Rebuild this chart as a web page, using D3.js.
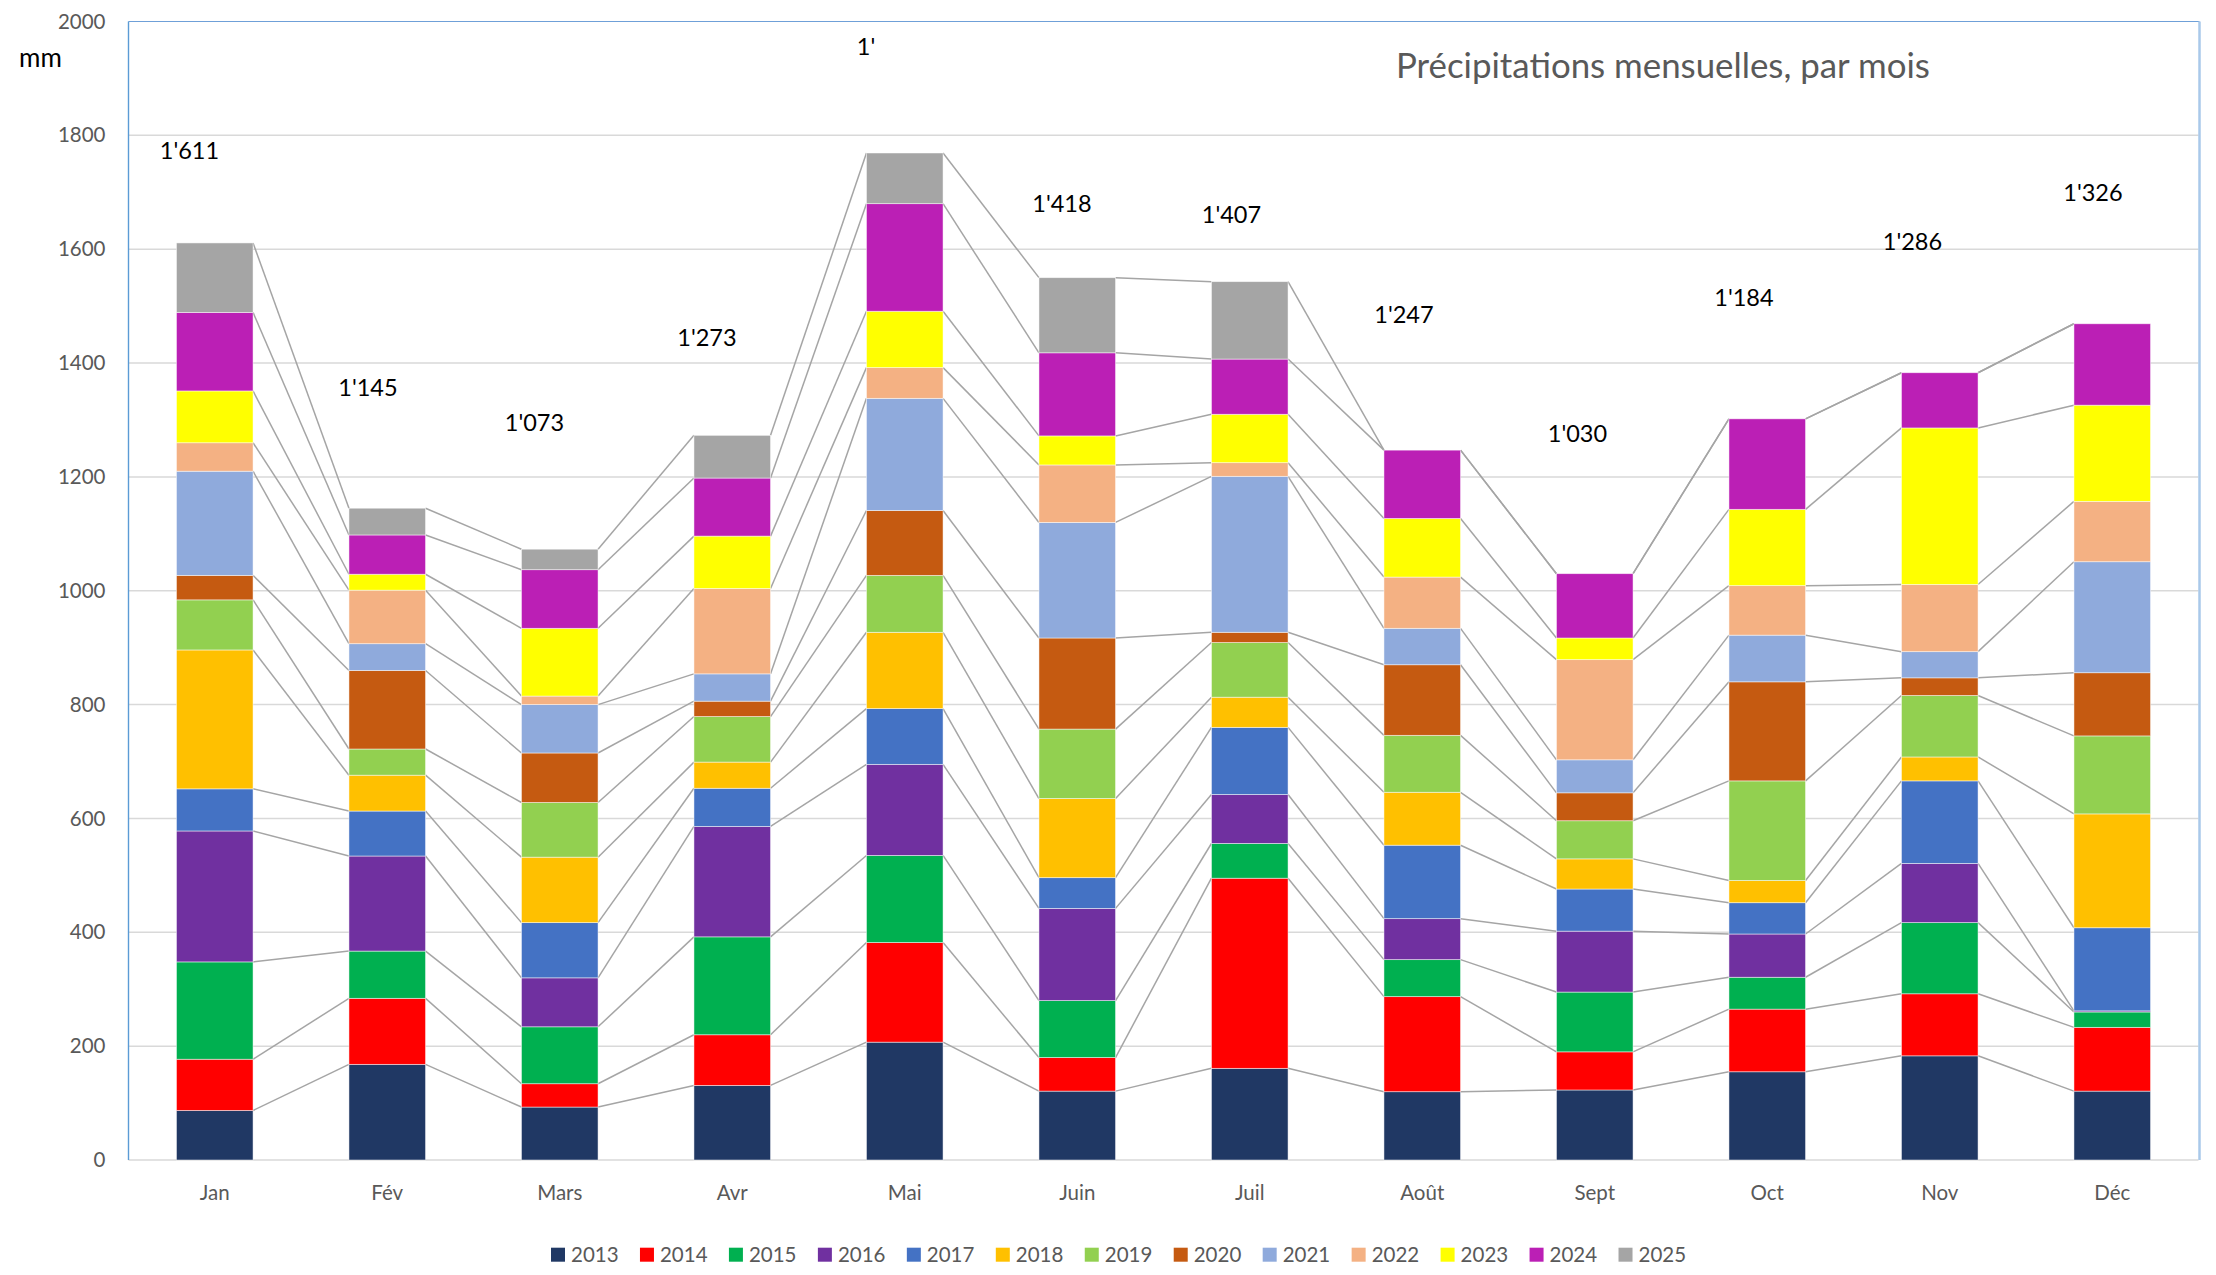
<!DOCTYPE html>
<html>
<head>
<meta charset="utf-8">
<script src="https://cdn.jsdelivr.net/npm/d3@7"></script>
<style>
  html, body { margin: 0; padding: 0; background: #fff; }
  svg { display: block; font-family: Lato, "Open Sans", sans-serif; }
</style>
</head>
<body>
<svg id="chart" width="2216" height="1275"></svg>
<script>
// ---- Data: monthly precipitation (mm), Jan..Déc, one array per year ----
const months = ["Jan", "Fév", "Mars", "Avr", "Mai", "Juin", "Juil", "Août", "Sept", "Oct", "Nov", "Déc"];
const years = ["2013", "2014", "2015", "2016", "2017", "2018", "2019", "2020", "2021", "2022", "2023", "2024", "2025"];

const p2013 = [87, 168, 93, 131, 207, 121, 161, 120, 123, 155, 183, 121];
const p2014 = [90, 116, 41, 89, 175, 59, 334, 167, 67, 110, 109, 112];
const p2015 = [171, 83, 100, 172, 153, 100, 61, 65, 105, 56, 125, 27];
const p2016 = [230, 167, 86, 194, 160, 162, 86, 72, 107, 76, 104, 2];
const p2017 = [74, 79, 97, 67, 98, 54, 118, 129, 74, 55, 145, 146];
const p2018 = [244, 63, 115, 46, 134, 139, 53, 93, 53, 39, 42, 200];
const p2019 = [88, 46, 96, 80, 100, 122, 96, 100, 67, 175, 108, 137];
const p2020 = [43, 138, 87, 27, 114, 160, 18, 124, 49, 174, 31, 111];
const p2021 = [183, 47, 85, 48, 197, 203, 274, 64, 58, 82, 46, 195];
const p2022 = [50, 94, 15, 150, 54, 101, 24, 90, 176, 87, 118, 106];
const p2023 = [91, 28, 119, 92, 99, 51, 85, 103, 38, 134, 275, 169];
const p2024 = [138, 69, 103, 102, 189, 146, 97, 120, 113, 159, 97, 143];
const p2025 = [122, 47, 36, 75, 89, 132, 136, null, null, null, null, null];

const yearSeries = [p2013, p2014, p2015, p2016, p2017, p2018, p2019, p2020, p2021, p2022, p2023, p2024, p2025];

// Cumulative totals written above each month
const totalLabels = ["1'611", "1'145", "1'073", "1'273", "1'", "1'418", "1'407", "1'247", "1'030", "1'184", "1'286", "1'326"];

const yTicks = [0, 200, 400, 600, 800, 1000, 1200, 1400, 1600, 1800, 2000];

const yearColors = ["#203864", "#FF0000", "#00B050", "#7030A0", "#4472C4", "#FFC000", "#92D050",
                    "#C55A11", "#8FAADC", "#F4B183", "#FFFF00", "#BB1FB5", "#A5A5A5"];

// ---- Layout ----
const W = 2216, H = 1275;
const plot = { left: 128.5, right: 2198.5, top: 21.5, bottom: 1160 };
// label placement relative to the bar centre (x) and the bar top (y), in px
const labelDx = [-55, -49, -55, -55, -48, -45, -48, -48, -47, -53, -57, -49];
const labelDy = [-92, -121, -127, -98, -106, -74, -67, -136, -140, -121, -131, -131];

const svg = d3.select("#chart");
svg.append("rect").attr("width", W).attr("height", H).attr("fill", "#fff");

const x = d3.scaleBand()
  .domain(months)
  .range([plot.left, plot.right])
  .paddingInner(0.556)
  .paddingOuter(0.278);

const y = d3.scaleLinear().domain([0, 2000]).range([plot.bottom, plot.top]);

// stack table
const table = months.map((m, i) => {
  const row = { month: m };
  years.forEach((yr, j) => { row[yr] = yearSeries[j][i] ?? 0; });
  return row;
});
const stacked = d3.stack().keys(years)(table);

// gridlines
svg.append("g")
  .selectAll("line")
  .data(yTicks.filter(v => v < 2000))
  .join("line")
  .attr("x1", plot.left).attr("x2", plot.right)
  .attr("y1", d => y(d)).attr("y2", d => y(d))
  .attr("stroke", "#D9D9D9")
  .attr("stroke-width", 1.5);

// plot frame
svg.append("line")
  .attr("x1", plot.left).attr("x2", plot.right + 1)
  .attr("y1", y(2000)).attr("y2", y(2000))
  .attr("stroke", "#6FA0D8").attr("stroke-width", 1.2);
svg.append("line")
  .attr("x1", plot.left).attr("x2", plot.left)
  .attr("y1", y(2000)).attr("y2", y(0))
  .attr("stroke", "#5B9BD5").attr("stroke-width", 1.4);
svg.append("line")
  .attr("x1", plot.right + 1).attr("x2", plot.right + 1)
  .attr("y1", y(2000)).attr("y2", y(0))
  .attr("stroke", "#A9C9EA").attr("stroke-width", 2.5);

// y axis
const yAxis = svg.append("g")
  .attr("transform", `translate(${plot.left},0)`)
  .call(d3.axisLeft(y).tickValues(yTicks).tickSize(0).tickPadding(23).tickFormat(d3.format("d")));
yAxis.select(".domain").remove();
yAxis.selectAll("text")
  .attr("fill", "#595959")
  .style("font-size", "20.5px")
  .style("font-family", "Lato, 'Open Sans', sans-serif");

// x axis
const xAxis = svg.append("g")
  .attr("transform", `translate(0,${plot.bottom})`)
  .call(d3.axisBottom(x).tickSize(0).tickPadding(25));
xAxis.select(".domain").remove();
xAxis.selectAll("text")
  .attr("fill", "#595959")
  .style("font-size", "20.5px")
  .style("font-family", "Lato, 'Open Sans', sans-serif");

// series lines joining the top of each year's segment between neighbouring months
const bw = x.bandwidth();
const seriesLines = [];
stacked.forEach(layer => {
  for (let i = 0; i < months.length - 1; i++) {
    seriesLines.push({
      x1: x(months[i]) + bw, y1: y(layer[i][1]),
      x2: x(months[i + 1]), y2: y(layer[i + 1][1])
    });
  }
});
svg.append("g")
  .selectAll("line")
  .data(seriesLines)
  .join("line")
  .attr("x1", d => d.x1).attr("y1", d => d.y1)
  .attr("x2", d => d.x2).attr("y2", d => d.y2)
  .attr("stroke", "#A5A5A5")
  .attr("stroke-width", 1.5);

// stacked bars
svg.append("g")
  .selectAll("g")
  .data(stacked)
  .join("g")
  .attr("fill", (d, i) => yearColors[i])
  .selectAll("rect")
  .data(d => d.filter(s => s[1] - s[0] > 0))
  .join("rect")
  .attr("x", d => x(d.data.month))
  .attr("y", d => y(d[1]))
  .attr("width", bw)
  .attr("height", d => y(d[0]) - y(d[1]))
  .attr("stroke", "#fff")
  .attr("stroke-opacity", 0.6)
  .attr("stroke-width", 0.8);

// cumulative labels above the bars
const stackTop = months.map((m, i) => stacked[stacked.length - 1][i][1]);
svg.append("g")
  .selectAll("text")
  .data(totalLabels)
  .join("text")
  .attr("x", (d, i) => x(months[i]) + bw / 2 + labelDx[i])
  .attr("y", (d, i) => y(stackTop[i]) + labelDy[i])
  .attr("dy", "0.36em")
  .attr("fill", "#000")
  .style("font-size", "23.5px")
  .text(d => d);

// unit
svg.append("text")
  .attr("x", 19).attr("y", 66.5)
  .attr("fill", "#000")
  .style("font-size", "26px")
  .text("mm");

// title, sized to its box
const title = svg.append("text")
  .attr("x", 1396).attr("y", 78)
  .attr("fill", "#595959")
  .style("font-size", "30px")
  .text("Précipitations mensuelles, par mois");
const tw = title.node().getComputedTextLength();
title.style("font-size", (30 * 534 / tw) + "px");

// legend
const legend = svg.append("g")
  .selectAll("g")
  .data(years)
  .join("g")
  .attr("transform", (d, i) => `translate(${551 + i * 88.96},1247.7)`);
legend.append("rect")
  .attr("width", 14).attr("height", 14)
  .attr("fill", (d, i) => yearColors[i]);
legend.append("text")
  .attr("x", 20).attr("y", 14)
  .attr("fill", "#595959")
  .style("font-size", "20.5px")
  .text(d => d);
</script>
</body>
</html>
